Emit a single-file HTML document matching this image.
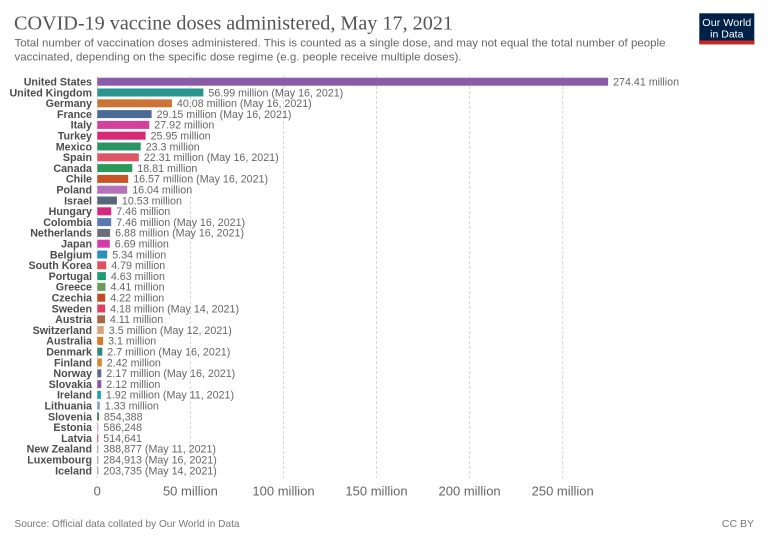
<!DOCTYPE html>
<html>
<head>
<meta charset="utf-8">
<style>
  html,body{margin:0;padding:0;background:#fff;}
  svg{display:block;}
  .lab{font-family:"Liberation Sans",Arial,sans-serif;font-weight:bold;font-size:10.7px;fill:#4d4d4d;text-anchor:end;}
  .val{font-family:"Liberation Sans",Arial,sans-serif;font-size:10.7px;fill:#666;}
  .tick{font-family:"Liberation Sans",Arial,sans-serif;font-size:13px;fill:#666;text-anchor:middle;}
  .grid{stroke:#d8d8d8;stroke-width:1;stroke-dasharray:3,2;}
</style>
</head>
<body>
<svg width="768" height="542" viewBox="0 0 768 542" xmlns="http://www.w3.org/2000/svg">
  <rect width="768" height="542" fill="#fff"/>

  <!-- Title -->
  <text x="14" y="29.3" font-family="'Liberation Serif',serif" font-size="19.5" fill="#555" textLength="439" lengthAdjust="spacingAndGlyphs">COVID-19 vaccine doses administered, May 17, 2021</text>
  <text x="14.5" y="46.5" font-family="'Liberation Sans',sans-serif" font-size="10.8" fill="#666" textLength="651" lengthAdjust="spacingAndGlyphs">Total number of vaccination doses administered. This is counted as a single dose, and may not equal the total number of people</text>
  <text x="14.5" y="60.3" font-family="'Liberation Sans',sans-serif" font-size="10.8" fill="#666" textLength="447" lengthAdjust="spacingAndGlyphs">vaccinated, depending on the specific dose regime (e.g. people receive multiple doses).</text>

  <!-- Logo -->
  <rect x="699.3" y="13.3" width="55" height="31" fill="#002147"/>
  <rect x="699.3" y="40.5" width="55" height="3.8" fill="#ce261e"/>
  <text x="726.8" y="26.2" font-family="'Liberation Sans',sans-serif" font-size="10.5" fill="#fff" text-anchor="middle" textLength="49" lengthAdjust="spacingAndGlyphs">Our World</text>
  <text x="726.8" y="37.6" font-family="'Liberation Sans',sans-serif" font-size="10.5" fill="#fff" text-anchor="middle">in Data</text>

  <!-- Gridlines -->
  <line class="grid" x1="97.3" y1="76" x2="97.3" y2="478"/>
  <line class="grid" x1="190.4" y1="76" x2="190.4" y2="478"/>
  <line class="grid" x1="283.5" y1="76" x2="283.5" y2="478"/>
  <line class="grid" x1="376.5" y1="76" x2="376.5" y2="478"/>
  <line class="grid" x1="469.6" y1="76" x2="469.6" y2="478"/>
  <line class="grid" x1="562.7" y1="76" x2="562.7" y2="478"/>

  <!-- Bars -->
  <rect x="97.3" y="77.7" width="510.8" height="8" fill="#8a5ba6"/>
  <rect x="97.3" y="88.5" width="106.1" height="8" fill="#2a958f"/>
  <rect x="97.3" y="99.3" width="74.6" height="8" fill="#cf7236"/>
  <rect x="97.3" y="110.1" width="54.3" height="8" fill="#4b6a95"/>
  <rect x="97.3" y="120.9" width="52.0" height="8" fill="#d4409a"/>
  <rect x="97.3" y="131.7" width="48.3" height="8" fill="#d62a79"/>
  <rect x="97.3" y="142.5" width="43.4" height="8" fill="#2c9463"/>
  <rect x="97.3" y="153.3" width="41.5" height="8" fill="#e05565"/>
  <rect x="97.3" y="164.1" width="35.0" height="8" fill="#2a9a5c"/>
  <rect x="97.3" y="174.9" width="30.9" height="8" fill="#c75427"/>
  <rect x="97.3" y="185.7" width="29.9" height="8" fill="#b572b8"/>
  <rect x="97.3" y="196.5" width="19.6" height="8" fill="#56687a"/>
  <rect x="97.3" y="207.3" width="13.9" height="8" fill="#d6287a"/>
  <rect x="97.3" y="218.1" width="13.9" height="8" fill="#5a78b2"/>
  <rect x="97.3" y="228.9" width="12.8" height="8" fill="#6b6f76"/>
  <rect x="97.3" y="239.7" width="12.5" height="8" fill="#d43ba8"/>
  <rect x="97.3" y="250.5" width="9.9" height="8" fill="#2a8fba"/>
  <rect x="97.3" y="261.3" width="8.9" height="8" fill="#e2505f"/>
  <rect x="97.3" y="272.1" width="8.6" height="8" fill="#1f9a6e"/>
  <rect x="97.3" y="282.9" width="8.2" height="8" fill="#6b9a5a"/>
  <rect x="97.3" y="293.7" width="7.9" height="8" fill="#c24a25"/>
  <rect x="97.3" y="304.5" width="7.8" height="8" fill="#e0405e"/>
  <rect x="97.3" y="315.3" width="7.7" height="8" fill="#a86a45"/>
  <rect x="97.3" y="326.1" width="6.5" height="8" fill="#d9a57a"/>
  <rect x="97.3" y="336.9" width="5.8" height="8" fill="#d97a2a"/>
  <rect x="97.3" y="347.7" width="5.0" height="8" fill="#2e8a7e"/>
  <rect x="97.3" y="358.5" width="4.5" height="8" fill="#d3892e"/>
  <rect x="97.3" y="369.3" width="4.0" height="8" fill="#5b6a8e"/>
  <rect x="97.3" y="380.1" width="4.0" height="8" fill="#8b55a8"/>
  <rect x="97.3" y="390.9" width="3.6" height="8" fill="#1fa3a0"/>
  <rect x="97.3" y="401.7" width="2.5" height="8" fill="#7f9fcf"/>
  <rect x="97.3" y="412.5" width="1.6" height="8" fill="#2f7044"/>
  <rect x="97.3" y="423.3" width="1.1" height="8" fill="#d9a0b8"/>
  <rect x="97.3" y="434.1" width="1.0" height="8" fill="#c05060"/>
  <rect x="97.3" y="444.9" width="1.0" height="8" fill="#9a9a9a"/>
  <rect x="97.3" y="455.7" width="1.0" height="8" fill="#9a9a9a"/>
  <rect x="97.3" y="466.5" width="1.0" height="8" fill="#9a9a9a"/>

  <!-- Country labels -->
  <text class="lab" x="92" y="85.5">United States</text>
  <text class="lab" x="92" y="96.3">United Kingdom</text>
  <text class="lab" x="92" y="107.1">Germany</text>
  <text class="lab" x="92" y="117.9">France</text>
  <text class="lab" x="92" y="128.7">Italy</text>
  <text class="lab" x="92" y="139.5">Turkey</text>
  <text class="lab" x="92" y="150.3">Mexico</text>
  <text class="lab" x="92" y="161.1">Spain</text>
  <text class="lab" x="92" y="171.9">Canada</text>
  <text class="lab" x="92" y="182.7">Chile</text>
  <text class="lab" x="92" y="193.5">Poland</text>
  <text class="lab" x="92" y="204.3">Israel</text>
  <text class="lab" x="92" y="215.1">Hungary</text>
  <text class="lab" x="92" y="225.9">Colombia</text>
  <text class="lab" x="92" y="236.7">Netherlands</text>
  <text class="lab" x="92" y="247.5">Japan</text>
  <text class="lab" x="92" y="258.3">Belgium</text>
  <text class="lab" x="92" y="269.1">South Korea</text>
  <text class="lab" x="92" y="279.9">Portugal</text>
  <text class="lab" x="92" y="290.7">Greece</text>
  <text class="lab" x="92" y="301.5">Czechia</text>
  <text class="lab" x="92" y="312.3">Sweden</text>
  <text class="lab" x="92" y="323.1">Austria</text>
  <text class="lab" x="92" y="333.9">Switzerland</text>
  <text class="lab" x="92" y="344.7">Australia</text>
  <text class="lab" x="92" y="355.5">Denmark</text>
  <text class="lab" x="92" y="366.3">Finland</text>
  <text class="lab" x="92" y="377.1">Norway</text>
  <text class="lab" x="92" y="387.9">Slovakia</text>
  <text class="lab" x="92" y="398.7">Ireland</text>
  <text class="lab" x="92" y="409.5">Lithuania</text>
  <text class="lab" x="92" y="420.3">Slovenia</text>
  <text class="lab" x="92" y="431.1">Estonia</text>
  <text class="lab" x="92" y="441.9">Latvia</text>
  <text class="lab" x="92" y="452.7">New Zealand</text>
  <text class="lab" x="92" y="463.5">Luxembourg</text>
  <text class="lab" x="92" y="474.3">Iceland</text>

  <!-- Value labels -->
  <text class="val" x="613.1" y="85.5">274.41 million</text>
  <text class="val" x="208.4" y="96.3">56.99 million (May 16, 2021)</text>
  <text class="val" x="176.9" y="107.1">40.08 million (May 16, 2021)</text>
  <text class="val" x="156.6" y="117.9">29.15 million (May 16, 2021)</text>
  <text class="val" x="154.3" y="128.7">27.92 million</text>
  <text class="val" x="150.6" y="139.5">25.95 million</text>
  <text class="val" x="145.7" y="150.3">23.3 million</text>
  <text class="val" x="143.8" y="161.1">22.31 million (May 16, 2021)</text>
  <text class="val" x="137.3" y="171.9">18.81 million</text>
  <text class="val" x="133.2" y="182.7">16.57 million (May 16, 2021)</text>
  <text class="val" x="132.2" y="193.5">16.04 million</text>
  <text class="val" x="121.9" y="204.3">10.53 million</text>
  <text class="val" x="116.2" y="215.1">7.46 million</text>
  <text class="val" x="116.2" y="225.9">7.46 million (May 16, 2021)</text>
  <text class="val" x="115.1" y="236.7">6.88 million (May 16, 2021)</text>
  <text class="val" x="114.8" y="247.5">6.69 million</text>
  <text class="val" x="112.2" y="258.3">5.34 million</text>
  <text class="val" x="111.2" y="269.1">4.79 million</text>
  <text class="val" x="110.9" y="279.9">4.63 million</text>
  <text class="val" x="110.5" y="290.7">4.41 million</text>
  <text class="val" x="110.2" y="301.5">4.22 million</text>
  <text class="val" x="110.1" y="312.3">4.18 million (May 14, 2021)</text>
  <text class="val" x="109.9" y="323.1">4.11 million</text>
  <text class="val" x="108.8" y="333.9">3.5 million (May 12, 2021)</text>
  <text class="val" x="108.1" y="344.7">3.1 million</text>
  <text class="val" x="107.3" y="355.5">2.7 million (May 16, 2021)</text>
  <text class="val" x="106.8" y="366.3">2.42 million</text>
  <text class="val" x="106.3" y="377.1">2.17 million (May 16, 2021)</text>
  <text class="val" x="106.3" y="387.9">2.12 million</text>
  <text class="val" x="105.9" y="398.7">1.92 million (May 11, 2021)</text>
  <text class="val" x="104.8" y="409.5">1.33 million</text>
  <text class="val" x="103.9" y="420.3">854,388</text>
  <text class="val" x="103.4" y="431.1">586,248</text>
  <text class="val" x="103.3" y="441.9">514,641</text>
  <text class="val" x="103.3" y="452.7">388,877 (May 11, 2021)</text>
  <text class="val" x="103.3" y="463.5">284,913 (May 16, 2021)</text>
  <text class="val" x="103.3" y="474.3">203,735 (May 14, 2021)</text>

  <!-- Axis tick labels -->
  <text class="tick" x="97.3" y="495.5">0</text>
  <text class="tick" x="190.4" y="495.5">50 million</text>
  <text class="tick" x="283.5" y="495.5">100 million</text>
  <text class="tick" x="376.5" y="495.5">150 million</text>
  <text class="tick" x="469.6" y="495.5">200 million</text>
  <text class="tick" x="562.7" y="495.5">250 million</text>

  <!-- Footer -->
  <text x="14.5" y="527" font-family="'Liberation Sans',sans-serif" font-size="10.5" fill="#777" textLength="225" lengthAdjust="spacingAndGlyphs">Source: Official data collated by Our World in Data</text>
  <text x="754" y="527" font-family="'Liberation Sans',sans-serif" font-size="10.5" fill="#777" text-anchor="end">CC BY</text>
</svg>
</body>
</html>
